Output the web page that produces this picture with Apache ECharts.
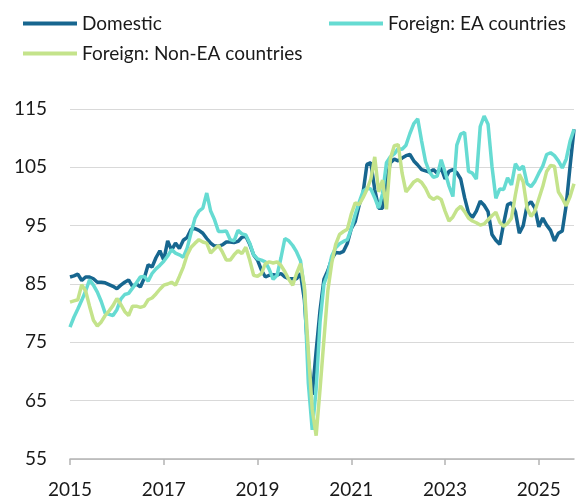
<!DOCTYPE html>
<html>
<head>
    <meta charset="utf-8">
    <title>ECharts</title>
    <script src="https://cdn.jsdelivr.net/npm/echarts@6.0.0/dist/echarts.min.js"></script>
    <style>
        html, body { margin: 0; padding: 0; background: #fff; }
    </style>
</head>
<body>
<div id="main" style="width: 577px;height:501px;"></div>
<script type="text/javascript">
    // monthly index, Jan 2015 - Oct 2025
    var months = [];
    for (var y = 2015; y <= 2025; y++) {
        for (var mo = 1; mo <= 12; mo++) {
            if (y === 2025 && mo > 10) break;
            months.push(y + '-' + (mo < 10 ? '0' + mo : mo));
        }
    }

    var domestic = [
        86.2, 86.4, 86.7, 85.6, 86.2, 86.2, 85.9, 85.3, 85.3, 85.2, 84.9, 84.6,
        84.2, 84.8, 85.3, 85.7, 84.6, 85.0, 84.5, 86.0, 88.3, 87.9, 89.5, 90.7,
        89.1, 92.4, 90.8, 92.0, 91.1, 92.5, 93.0, 94.4, 94.5, 94.2, 93.7, 92.8,
        92.0, 91.5, 91.5, 91.7, 92.2, 92.2, 92.1, 92.3, 93.0, 93.2, 91.8, 90.0,
        89.1, 87.4, 86.2, 86.5, 86.6, 86.5, 86.8, 86.2, 85.9, 85.9, 85.9, 86.8,
        82.2, 72.0, 66.0, 73.5, 80.5, 85.8, 87.3, 89.3, 90.4, 90.3, 90.6, 92.0,
        94.5, 95.7, 98.5, 100.6, 105.5, 105.8, 101.2, 98.0, 98.0, 102.8, 105.8, 106.4,
        106.1, 106.6, 107.0, 107.2, 106.1, 105.4, 104.6, 104.4, 104.2, 104.6, 104.0, 104.9,
        103.0, 104.3, 104.6, 104.1, 103.0, 99.8, 97.2, 96.4, 97.5, 99.2, 98.5, 97.4,
        93.5, 92.5, 91.8, 95.4, 98.6, 98.9, 97.4, 93.7, 95.0, 98.5, 99.1, 98.0,
        94.8, 96.3, 95.1, 94.2, 92.4, 93.7, 94.1, 98.5, 105.2, 111.5
    ];
    var foreignEA = [
        77.6, 79.3, 80.7, 82.2, 83.8, 85.7, 84.8, 83.6, 82.0, 80.0, 79.8, 79.6,
        80.6, 82.4, 83.2, 83.4, 84.3, 85.2, 86.2, 86.3, 85.5, 86.8, 87.6, 88.2,
        88.9, 89.8, 90.9, 90.3, 90.0, 89.6, 91.2, 93.8, 96.3, 97.5, 98.0, 100.6,
        97.5, 96.0, 94.0, 94.0, 94.1, 92.6, 92.4, 94.2, 93.6, 93.4, 92.0, 90.0,
        89.3, 89.1, 88.8, 87.5, 85.8, 86.5, 89.5, 92.8, 92.4, 91.6, 90.5, 89.0,
        84.0, 68.0, 60.0, 67.0, 78.5, 85.0, 86.8, 89.8, 91.2, 91.9, 92.3, 92.6,
        94.5, 96.9, 99.0, 100.9, 101.4, 101.3, 99.8, 98.0, 100.5, 105.8, 106.8, 107.3,
        108.2, 108.1, 108.8, 110.8, 112.5, 113.3, 109.5, 106.0, 104.2, 103.3, 103.5, 106.3,
        104.2, 101.8, 100.0, 108.8, 110.7, 111.0, 104.3, 104.0, 103.0, 112.0, 113.8, 112.4,
        105.2, 99.7, 101.3, 101.2, 103.2, 102.0, 105.6, 104.6, 105.2, 102.2, 101.7, 102.6,
        104.0, 105.2, 107.2, 107.5, 107.0, 106.1, 104.9, 106.4, 109.5, 111.5
    ];
    var foreignNonEA = [
        81.9, 82.1, 82.3, 84.9, 83.8, 81.2, 78.8, 77.8, 78.5, 79.6, 80.4, 81.3,
        82.5, 81.5, 80.3, 79.6, 81.2, 81.2, 81.0, 81.2, 82.3, 82.6, 83.3, 84.1,
        84.8, 85.0, 85.3, 84.8, 86.3, 87.9, 90.0, 91.3, 92.0, 92.6, 92.2, 92.0,
        90.3, 91.0, 91.6, 90.5, 89.1, 89.1, 90.0, 90.7, 90.2, 91.3, 89.1, 86.5,
        86.3, 86.8, 88.5, 88.8, 88.6, 88.8, 88.2, 87.1, 85.8, 84.8, 86.8, 88.5,
        84.5, 73.5, 63.5, 59.0, 67.0, 75.5, 83.9, 88.6, 91.8, 93.5, 94.0, 94.4,
        97.0, 98.9, 98.6, 99.8, 101.2, 103.0, 106.8, 100.8, 102.8, 97.8, 106.5, 108.7,
        108.9, 104.0, 100.8, 101.6, 102.5, 102.9, 102.4, 101.4, 100.0, 99.5, 99.9, 99.5,
        97.5, 95.8, 96.5, 97.7, 98.3, 97.4, 96.3, 95.8, 95.5, 95.1, 95.3, 96.0,
        96.7, 97.3, 95.6, 94.9, 95.4, 96.3, 100.3, 103.8, 102.5, 98.0, 96.6, 97.5,
        99.6, 101.7, 104.3, 105.3, 105.2, 100.8, 99.7, 98.4, 100.0, 102.2
    ];
    var yTicks = { min: 55, max: 115, step: 10 };

    var seriesNames = ['Domestic', 'Foreign: EA countries', 'Foreign: Non-EA countries'];
    var colors = ['#17668f', '#66dbd2', '#c4e38b'];

    // Jan of odd years get a tick + label
    function oddJan(idx, val) {
        var p = String(val).split('-');
        return p[1] === '01' && (+p[0]) % 2 === 1;
    }

    var myChart = echarts.init(document.getElementById('main'));
    var legendText = { fontFamily: 'Lato', fontSize: 19, color: '#1a1a1a' };
    var legendBase = {
        orient: 'horizontal',
        icon: 'rect',
        itemWidth: 54,
        itemHeight: 4,
        textStyle: legendText,
        selectedMode: false
    };
    var option = {
        animation: false,
        textStyle: { fontFamily: 'Lato' },
        color: colors,
        legend: [
            Object.assign({}, legendBase, { data: [seriesNames[0]], left: 18, top: 9 }),
            Object.assign({}, legendBase, { data: [seriesNames[1]], left: 324, top: 9 }),
            Object.assign({}, legendBase, { data: [seriesNames[2]], left: 18, top: 39 })
        ],
        grid: {
            top: 109,
            bottom: 42,
            left: 70,
            right: 3
        },
        xAxis: {
            type: 'category',
            data: months,
            boundaryGap: false,
            axisLine: { lineStyle: { color: '#b4b4b4', width: 1.5 } },
            axisTick: { show: true, length: 6, interval: oddJan, lineStyle: { color: '#b4b4b4', width: 1.5 } },
            axisLabel: {
                interval: oddJan,
                formatter: function (v) { return v.slice(0, 4); },
                fontSize: 19,
                color: '#1a1a1a',
                margin: 21
            },
            splitLine: { show: false }
        },
        yAxis: {
            type: 'value',
            min: yTicks.min,
            max: yTicks.max,
            interval: yTicks.step,
            axisLine: { show: false },
            axisTick: { show: false },
            axisLabel: { fontSize: 19, color: '#1a1a1a', margin: 23 },
            splitLine: { lineStyle: { color: '#d9d9d9', width: 1.2 } }
        },
        series: [domestic, foreignEA, foreignNonEA].map(function (d, i) {
            return {
                name: seriesNames[i],
                type: 'line',
                data: d,
                showSymbol: false,
                symbol: 'none',
                lineStyle: { width: 3.5, color: colors[i] },
                itemStyle: { color: colors[i] }
            };
        })
    };

    myChart.setOption(option);
</script>
</body>
</html>
